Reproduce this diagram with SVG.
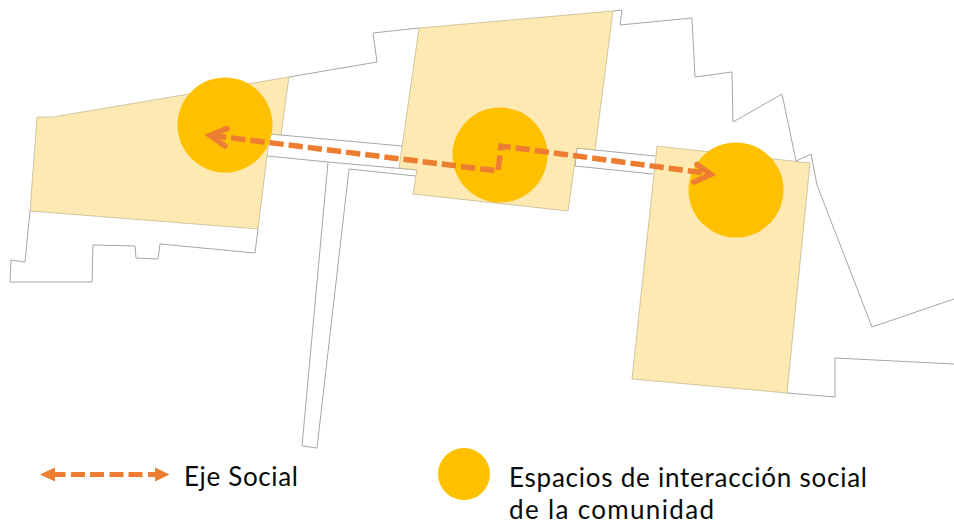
<svg xmlns="http://www.w3.org/2000/svg" width="954" height="525" viewBox="0 0 954 525">
<style>
.o{fill:none;stroke:#a6a6a6;stroke-width:1;stroke-linejoin:miter}
.b{fill:#fde9b1;stroke:#bdb28c;stroke-width:.7}
.c{fill:#ffc000}
.d{fill:none;stroke:#ed7d31;stroke-width:5.500;stroke-dasharray:14.3 5}
.s{fill:none;stroke:#ed7d31;stroke-width:5}
.h{fill:none;stroke:#ed7d31;stroke-width:5.500;stroke-linecap:round;stroke-linejoin:miter}
.t{font-family:"Lato","Liberation Sans",sans-serif;font-size:26px;fill:#0a0a0a}
</style>
<rect width="954" height="525" fill="#fff"/>
<g id="plan">
<path class="o" d="M30 211L25 262L11 260L10 282L92 282L93 245L135 246L136 258L158 259L160 244L255 253L258 229"/>
<path class="o" d="M289 77L377 62L373 33L419 28"/>
<path class="o" d="M270 134L402 146M267 156L328 162L417 170M328 162L302 446L317 448L349 169L416 176"/>
<path class="o" d="M613 11L622 10L620 25L692 18L695 77L732 72L733 122L782 94L796 161L811 154L817 185L872 327L954 299"/>
<path class="o" d="M577 148L595 150L655 156M577 148L575 166L653 174"/>
<path class="o" d="M787 393L835 397L835 358L954 364"/>
</g>
<g id="edificio-1"><path class="b" d="M37 117L53 117L289 77L281 135L270 134L267 156L258 229L30 211Z"/></g>
<g id="edificio-2"><path class="b" d="M419 28L613 11L595 150L577 148L568 211L413 194L417 170L399 168Z"/></g>
<g id="edificio-3"><path class="b" d="M657 146L810 163L787 393L632 379Z"/></g>
<g id="espacio-1"><circle class="c" cx="225" cy="125" r="47.5"/></g>
<g id="espacio-2"><circle class="c" cx="500" cy="155" r="47.5"/></g>
<g id="espacio-3"><circle class="c" cx="736" cy="190" r="47.5"/></g>
<g id="connectors">
<path class="d" d="M212 135.500L498 171L501 146L709 173.500"/>
<path class="h" d="M227 128.500L210 135.500L225 146"/>
<path class="h" d="M697 164.500L711 174.500L694 182"/>
</g>
<g id="legend-eje">
<path class="s" d="M55 474.500H65.500M71 474.500H85M90 474.500H104M109.500 474.500H123.500M128.500 474.500H142.500M148 474.500H156"/>
<path d="M40 474.500L55 467.500V481.500Z" fill="#ed7d31"/>
<path d="M169.500 474.500L155 467.500V481.500Z" fill="#ed7d31"/>
<text class="t" x="184" y="485.500" textLength="114">Eje Social</text>
</g>
<g id="legend-espacios">
<circle class="c" cx="464" cy="474" r="26"/>
<text class="t" x="509" y="487" textLength="358">Espacios de interacción social</text>
<text class="t" x="509" y="518.500" textLength="205">de la comunidad</text>
</g>
</svg>
